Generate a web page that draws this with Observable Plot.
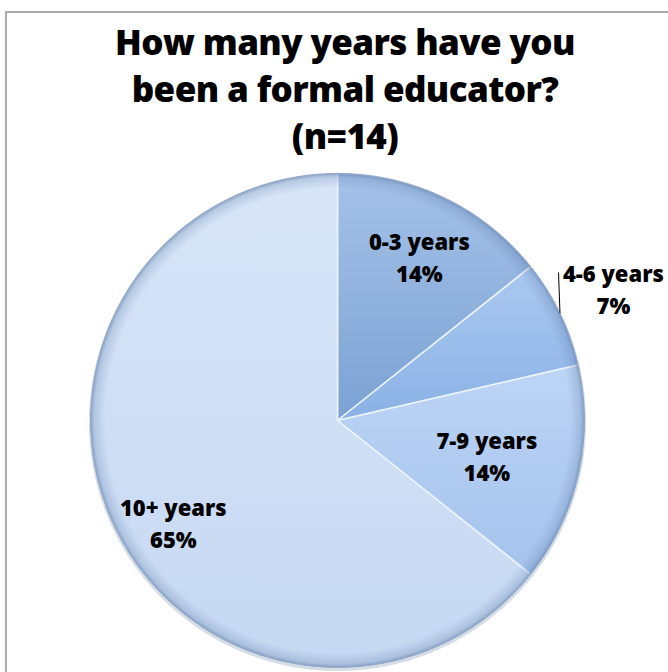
<!DOCTYPE html>
<html><head><meta charset="utf-8">
<script src="https://cdn.jsdelivr.net/npm/d3@7"></script>
<script src="https://cdn.jsdelivr.net/npm/@observablehq/plot@0.6"></script>
<style>
body{margin:0;background:#fff;}
#wrap{position:relative;width:668px;height:672px;overflow:hidden;background:#fff;font-family:"Open Sans",sans-serif;}
#frame{position:absolute;left:5px;top:11px;width:700px;height:700px;border-left:2px solid #ababab;border-top:2px solid #ababab;}
#title{position:relative;height:170px;box-sizing:border-box;padding-top:18px;padding-left:22px;text-align:center;font-weight:800;font-size:35px;line-height:47px;color:#000;letter-spacing:-0.6px;}
#chart svg{display:block;overflow:visible;}
</style></head><body>
<svg width="0" height="0" style="position:absolute">
<defs>
<linearGradient id="g0" x1="0" y1="0" x2="0" y2="1"><stop offset="0" stop-color="#a5c2e8"/><stop offset="1" stop-color="#7ba2d4"/></linearGradient>
<linearGradient id="g1" x1="0" y1="0" x2="0" y2="1"><stop offset="0" stop-color="#abc9f0"/><stop offset="1" stop-color="#8ab1e5"/></linearGradient>
<linearGradient id="g2" x1="0" y1="0" x2="0" y2="1"><stop offset="0" stop-color="#bdd5f5"/><stop offset="1" stop-color="#a4c2ed"/></linearGradient>
<linearGradient id="g3" x1="0" y1="0" x2="0" y2="1"><stop offset="0" stop-color="#d8e5f8"/><stop offset="1" stop-color="#c6d8f2"/></linearGradient>
<radialGradient id="rim" cx="0.5" cy="0.5" r="0.5">
<stop offset="0.94" stop-color="#5a7aa8" stop-opacity="0"/>
<stop offset="0.985" stop-color="#5a7aa8" stop-opacity="0.25"/>
<stop offset="1" stop-color="#4a6896" stop-opacity="0.55"/>
</radialGradient>
</defs></svg>
<div id="wrap"><div id="frame"></div><div id="title">How many years have you<br>been a formal educator?<br>(n=14)</div><div id="chart"></div></div>
<script>
const categories = ["0-3 years", "4-6 years", "7-9 years", "10+ years"];
const shares = [14.3, 7.1, 14.3, 64.3];
const percentLabels = ["14%", "7%", "14%", "65%"];

// layout / style (not data)
const W = 668, H = 502, CX = 337, CY = 250, R = 247;
const fills = ["url(#g0)", "url(#g1)", "url(#g2)", "url(#g3)"];
const labelRadius = [0.74, 1.24, 0.62, 0.76];
const labelNudge = [[0.01, 0], [0, 0], [0, 0], [0.02, -0.08]];

const arcs = d3.pie().sort(null).value(d => d)(shares);
const step = Math.PI / 360;
const slicePts = [];
arcs.forEach((a, i) => {
  slicePts.push({cat: categories[i], x: 0, y: 0});
  const n = Math.max(2, Math.ceil((a.endAngle - a.startAngle) / step));
  for (let k = 0; k <= n; k++) {
    const t = a.startAngle + (a.endAngle - a.startAngle) * k / n;
    slicePts.push({cat: categories[i], x: Math.sin(t), y: Math.cos(t)});
  }
});
const circlePts = d3.range(0, 721).map(k => ({x: Math.sin(k * step), y: Math.cos(k * step)}));

const labels = arcs.map((a, i) => {
  const m = (a.startAngle + a.endAngle) / 2;
  return {
    text: categories[i] + "\n" + percentLabels[i],
    x: Math.sin(m) * labelRadius[i] + labelNudge[i][0],
    y: Math.cos(m) * labelRadius[i] + labelNudge[i][1]
  };
});
const m1 = (arcs[1].startAngle + arcs[1].endAngle) / 2;
const leader = [{x1: Math.sin(m1), y1: Math.cos(m1), x2: Math.sin(m1) - 0.006, y2: Math.cos(m1) + 0.165}];

const chart = Plot.plot({
  width: W, height: H, margin: 0,
  x: {domain: [-CX / R, (W - CX) / R], axis: null},
  y: {domain: [-(H - CY) / R, CY / R], axis: null},
  color: {domain: categories, range: fills},
  style: {background: "transparent", overflow: "visible"},
  marks: [
    Plot.line(circlePts, {x: "x", y: "y", curve: "linear-closed", fill: "none", stroke: "#8a9ab3", strokeWidth: 3, strokeOpacity: 0.35, dy: 2}),
    Plot.line(slicePts, {x: "x", y: "y", z: "cat", fill: "cat", stroke: "#eef4fc", strokeWidth: 1.5, strokeLinejoin: "round", curve: "linear-closed"}),
    Plot.line(circlePts, {x: "x", y: "y", curve: "linear-closed", fill: "url(#rim)", stroke: "#8fa6c8", strokeWidth: 1}),
    Plot.link(leader, {x1: "x1", y1: "y1", x2: "x2", y2: "y2", stroke: "#000", strokeWidth: 1}),
    Plot.text(labels, {x: "x", y: "y", text: "text", fontSize: 22, fontWeight: 800, lineHeight: 1.45, fill: "#000", fontFamily: "Open Sans, sans-serif"})
  ]
});
document.getElementById("chart").appendChild(chart);
</script>
</body></html>
